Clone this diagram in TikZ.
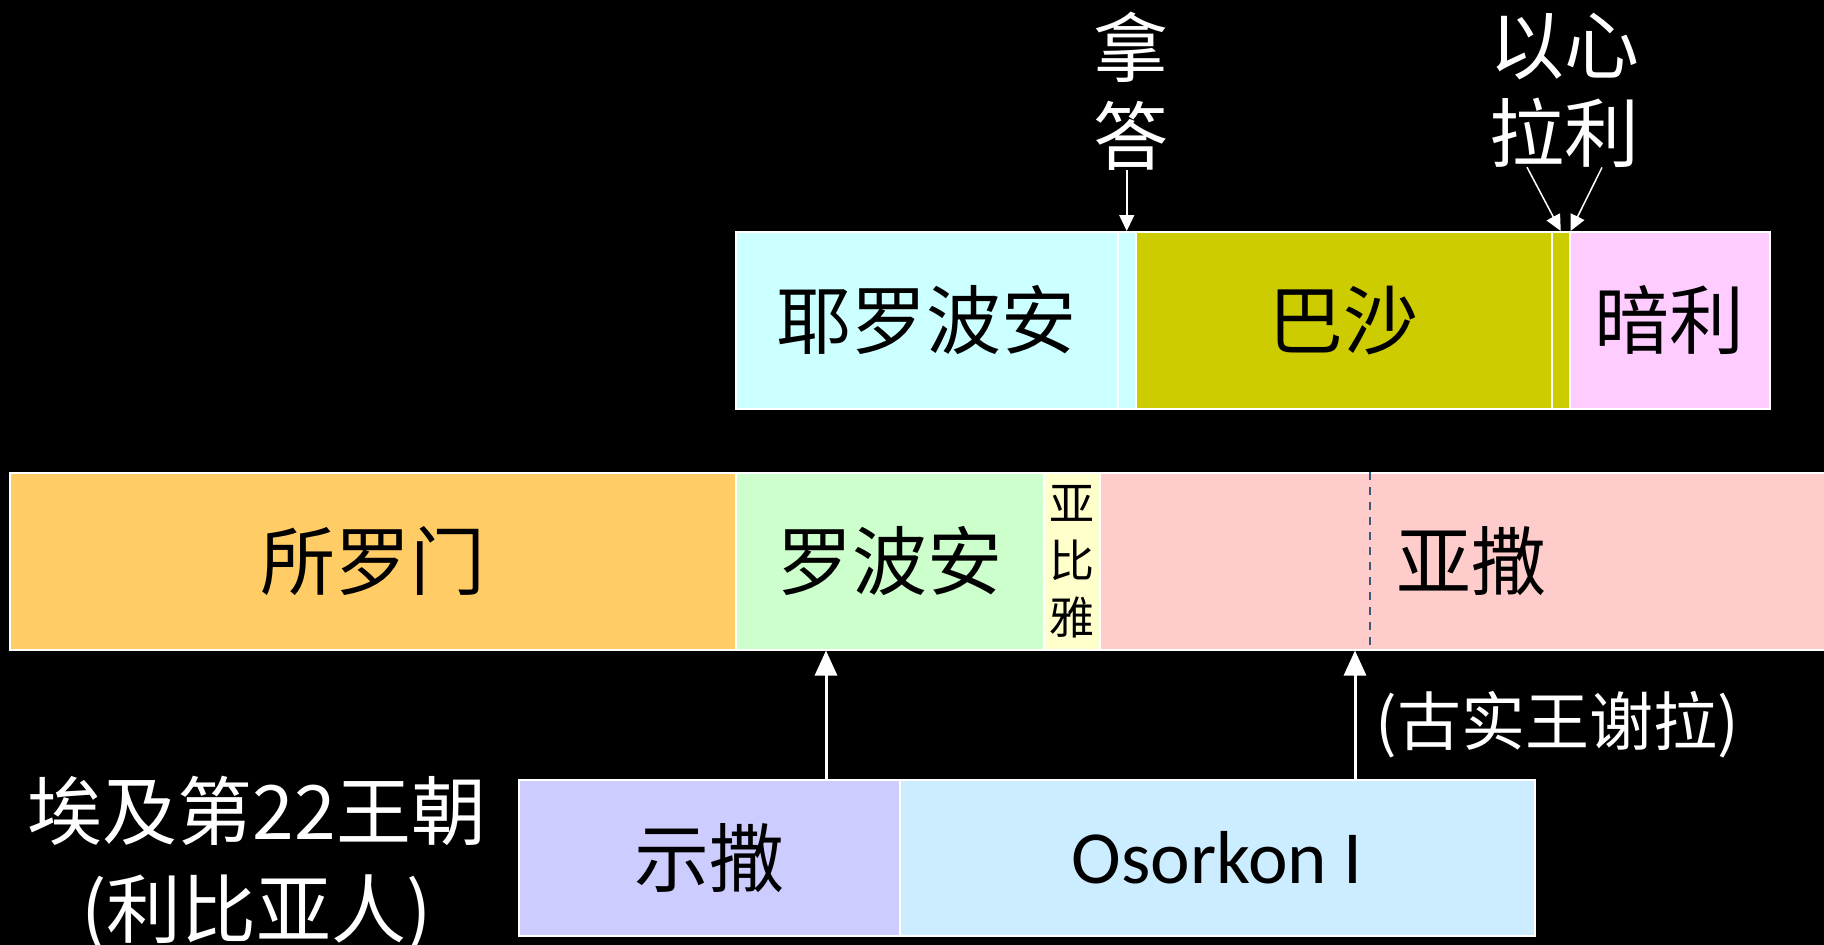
\documentclass[tikz,border=0pt]{standalone}
\usepackage{fontspec}
\setmainfont{Noto Sans CJK SC}
\newfontfamily\latinfont{Carlito}
\usetikzlibrary{arrows.meta}
\usetikzlibrary{positioning}
\usetikzlibrary{calc}
\definecolor{cyanbar}{HTML}{CCFFFF}
\definecolor{olivebar}{HTML}{CCCC00}
\definecolor{pinkbar}{HTML}{FFCCFF}
\definecolor{orangebar}{HTML}{FFCC66}
\definecolor{greenbar}{HTML}{CCFFCC}
\definecolor{creambar}{HTML}{FFFFCC}
\definecolor{rosebar}{HTML}{FFCCCC}
\definecolor{lilacbar}{HTML}{CCCCFF}
\definecolor{skybar}{HTML}{CCECFF}
\definecolor{slateline}{HTML}{3F5878}

\begin{document}
\begin{tikzpicture}[x=1pt,y=-1pt]

		\tikzset{block/.style = {shape=rectangle,draw=white,line width=1.5pt,anchor=north west,inner sep=0pt,minimum height=177pt,font=\fontsize{75}{88}\selectfont}}
		\tikzset{label/.style = {text=white,align=center,inner sep=0pt,font=\fontsize{75}{88}\selectfont}}
		\tikzset{edge/.style = {white,line width=3pt,-{Triangle[length=25pt,width=22pt]}}}
		\tikzset{edge2/.style = {white,line width=1.5pt,-{Triangle[length=16pt,width=15pt]}}}

		\fill[black] (0,0) rectangle (1824,945);
		\useasboundingbox (0,0) rectangle (1824,945);

		% israel
		\node[block, fill=cyanbar, minimum width=382pt] (jeroboam) at (735,231) {耶罗波安};
		\node[block, fill=cyanbar, minimum width=18pt] (nadabbar) at (1117,231) {};
		\node[block, fill=olivebar, minimum width=416pt] (baasha) at (1135,231) {巴沙};
		\node[block, fill=olivebar, minimum width=18pt] (elahbar) at (1551,231) {};
		\node[block, fill=pinkbar, minimum width=200pt] (omri) at (1569,231) {暗利};

		% judah
		\node[block, fill=orangebar, minimum width=726pt] (solomon) at (9,472) {所罗门};
		\node[block, fill=greenbar, minimum width=308pt] (rehoboam) at (735,472) {罗波安};
		\node[block, fill=creambar, minimum width=56pt, align=center, font=\fontsize{45}{57}\selectfont] (abijah) at (1043,472) {亚\\比\\雅};
		\node[block, fill=rosebar, minimum width=744pt] (asa) at (1099,472) {亚撒};

		% egypt
		\node[block, fill=lilacbar, minimum width=381pt, minimum height=156pt] (shishak) at (518,779) {示撒};
		\node[block, fill=skybar, minimum width=635pt, minimum height=156pt, font=\fontsize{75}{88}\latinfont] (osorkon) at (899,779) {Osorkon I};

		% labels
		\node[label] (nadab) at (1131,91) {拿\\答};
		\node[label] (elah) at (1527,90) {以\\拉};
		\node[label] (zimri) at (1602,90) {心\\利};
		\node[label, font=\fontsize{75}{98}\selectfont] (egypt) at (257,864) {埃及第22王朝\\(利比亚人)};
		\node[label, font=\fontsize{64}{72}\selectfont] (zerah) at (1557,725) {(古实王谢拉)};

		\coordinate (raid) at (826,779);
		\coordinate (cush) at (1355,779);
		\coordinate (split) at (1370,472);

		%edges
		\draw[slateline, line width=1.5pt, dash pattern=on 8pt off 7pt] (split) -- (split |- asa.south);

		\draw[edge2] (nadab.south -| nadabbar.north) -- (nadabbar.north);
		\draw[edge2] (elah.south) -- (elahbar.north);
		\draw[edge2] (zimri.south) -- (elahbar.north east);

		\draw[edge] (raid) -- (raid |- rehoboam.south);
		\draw[edge] (cush) -- (cush |- asa.south);

\end{tikzpicture}
\end{document}
